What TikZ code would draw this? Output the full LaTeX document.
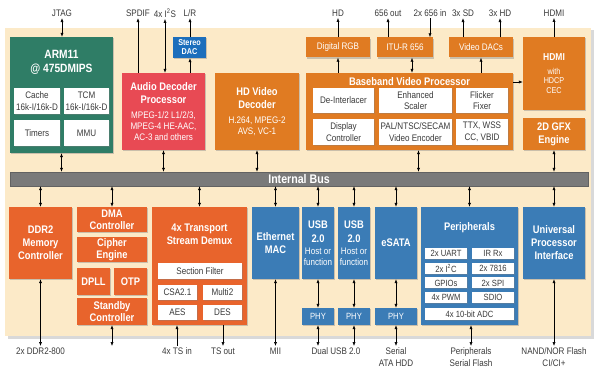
\documentclass[tikz,border=0pt]{standalone}
\usepackage{fontspec}
\setmainfont{Liberation Sans}[FakeStretch=0.85]
\usetikzlibrary{arrows.meta,shadows}

\definecolor{cream}{HTML}{FCEAC8}
\definecolor{armgreen}{HTML}{2F7D66}
\definecolor{audred}{HTML}{E84A54}
\definecolor{vidorange}{HTML}{E07B22}
\definecolor{memorange}{HTML}{E8642C}
\definecolor{iofblue}{HTML}{3B7CB6}
\definecolor{dacblue}{HTML}{1C6EBC}
\definecolor{busgray}{HTML}{7A7A7A}
\definecolor{txtgray}{HTML}{3A3A3A}

\newcommand{\plainfont}{\fontsize{9.5}{11}\selectfont\mdseries}
\newcommand{\subtxt}{\fontsize{9.5}{11.5}\selectfont}
\newcommand{\lblfont}{\fontsize{9.5}{11.5}\selectfont}
\newcommand{\dsc}[2][9.5]{{\fontsize{#1}{11}\selectfont\mdseries #2}}

\begin{document}
\begin{tikzpicture}[
		x=1pt, y=-1pt,
		sz/.style 2 args={
			minimum width=#1pt,
			minimum height=#2pt
		},
		blk/.style={
			rectangle,
			inner sep=0pt,
			align=center,
			text=white,
			font=\fontsize{11}{13}\selectfont\bfseries,
			drop shadow={shadow xshift=1.2pt, shadow yshift=-1.2pt, opacity=.4}
		},
		greenblk/.style={blk, fill=armgreen},
		redblk/.style={blk, fill=audred},
		orangeblk/.style={blk, fill=vidorange},
		memblk/.style={blk, fill=memorange},
		blueblk/.style={blk, fill=iofblue},
		subbox/.style={
			rectangle,
			fill=white,
			text=txtgray,
			inner sep=0pt,
			align=center,
			font=\subtxt,
			drop shadow={shadow xshift=.8pt, shadow yshift=-.8pt, opacity=.35}
		},
		pbox/.style={
			subbox,
			sz={42}{11},
			font=\fontsize{9}{10}\selectfont
		},
		ttl/.style={
			text=white,
			inner sep=0pt,
			align=center,
			font=\fontsize{11}{13}\selectfont\bfseries
		},
		busbar/.style={
			rectangle,
			fill=busgray,
			draw=busgray!80!black,
			text=white,
			font=\fontsize{12.5}{14}\selectfont\bfseries,
			drop shadow={shadow xshift=1.2pt, shadow yshift=-1.2pt, opacity=.4}
		},
		lbl/.style={
			text=txtgray,
			inner sep=1.5pt,
			align=center,
			font=\lblfont
		},
		arr/.style={
			-{Latex[length=1.4mm,width=1.1mm]},
			line width=.6pt
		},
		darr/.style={
			{Latex[length=1.4mm,width=1.1mm]}-{Latex[length=1.4mm,width=1.1mm]},
			line width=.6pt
		}
	]
	\useasboundingbox (0,0) rectangle (600,374);
	
	% chip area
	\path[fill=cream, drop shadow={shadow xshift=2.5pt, shadow yshift=-2.5pt, opacity=.3}]
		(5,28) rectangle (591,336);
	
	% --- upper half ---
	\node[greenblk, sz={103}{116}] (arm) at (61.5,95) {};
	\node[ttl, font=\fontsize{12}{14}\selectfont\bfseries] (armt) at (61.5,62) {ARM11\\@ 475DMIPS};
	\node[subbox, sz={46}{26}] (cache) at (37,101) {Cache\\16k-I/16k-D};
	\node[subbox, sz={45}{26}] (tcm) at (86.5,101) {TCM\\16k-I/16k-D};
	\node[subbox, sz={46}{26}] (timers) at (37,133) {Timers};
	\node[subbox, sz={45}{26}] (mmu) at (86.5,133) {MMU};
	
	\node[blk, fill=dacblue, sz={33}{21}, font=\fontsize{8.5}{9}\selectfont\bfseries] (dac) at (189.5,47.5) {Stereo\\DAC};
	\node[redblk, sz={83}{77}] (audio) at (163.5,111.5) {
		Audio Decoder\\Processor\\[2.5pt]
		\dsc{MPEG-1/2 L1/2/3,}\\[-2pt]
		\dsc{MPEG-4 HE-AAC,}\\[-2pt]
		\dsc{AC-3 and others}
	};
	\node[orangeblk, sz={84}{77}] (hdvid) at (257,111.5) {
		HD Video\\Decoder\\[2.5pt]
		\dsc{H.264, MPEG-2}\\[-2pt]
		\dsc{AVS, VC-1}
	};
	
	\node[orangeblk, sz={64}{20}, font=\plainfont] (rgb) at (338,47.5) {Digital RGB};
	\node[orangeblk, sz={56}{20}, font=\plainfont] (itu) at (405,47.5) {ITU-R 656};
	\node[orangeblk, sz={64}{20}, font=\plainfont] (vdac) at (481,47.5) {Video DACs};
	
	\node[orangeblk, sz={207}{77}] (bvp) at (409.5,111.5) {};
	\node[ttl] (bvpt) at (409.5,81.5) {Baseband Video Processor};
	\node[subbox, sz={61}{25}] (deint) at (343.5,100.5) {De-Interlacer};
	\node[subbox, sz={73}{25}] (scaler) at (415.5,100.5) {Enhanced\\Scaler};
	\node[subbox, sz={52}{25}] (flick) at (482,100.5) {Flicker\\Fixer};
	\node[subbox, sz={61}{26}] (dispc) at (343.5,132) {Display\\Controller};
	\node[subbox, sz={73}{26}] (venc) at (415.5,132) {PAL/NTSC/SECAM\\Video Encoder};
	\node[subbox, sz={52}{26}] (ttx) at (482,132) {TTX, WSS\\CC, VBID};
	
	\node[orangeblk, sz={62}{73}, font=\fontsize{10}{11}\selectfont\bfseries] (hdmi) at (554,73.5) {
		HDMI\\[3pt]
		\dsc[8.5]{with}\\[-1.5pt]
		\dsc[8.5]{HDCP}\\[-1pt]
		\dsc[8.5]{CEC}
	};
	\node[orangeblk, sz={62}{32}] (gfx) at (554,134) {2D GFX\\Engine};
	
	% bus
	\node[busbar, sz={578}{14}, inner sep=0pt] (bus) at (299,179) {Internal Bus};
	
	% --- lower half ---
	\node[memblk, sz={63}{72}] (ddr) at (40.5,243) {DDR2\\Memory\\Controller};
	\node[memblk, sz={70}{25}] (dma) at (112,219.5) {DMA\\[-1pt]Controller};
	\node[memblk, sz={70}{25}] (cipher) at (112,249.5) {Cipher\\[-1pt]Engine};
	\node[memblk, sz={33}{27}] (dpll) at (93.5,281.5) {DPLL};
	\node[memblk, sz={33}{27}] (otp) at (130.5,281.5) {OTP};
	\node[memblk, sz={70}{27}] (stby) at (112,311.5) {Standby\\[-1pt]Controller};
	
	\node[memblk, sz={95}{118}] (tsd) at (199.5,266) {};
	\node[ttl] (tsdt) at (199.5,234.5) {4x Transport\\Stream Demux};
	\node[subbox, sz={84}{16}] (secf) at (200,271) {Section Filter};
	\node[subbox, sz={39}{15}] (csa) at (177.5,292.5) {CSA2.1};
	\node[subbox, sz={39}{15}] (multi) at (222.5,292.5) {Multi2};
	\node[subbox, sz={39}{15}] (aes) at (177.5,312.5) {AES};
	\node[subbox, sz={39}{15}] (des) at (222.5,312.5) {DES};
	
	\node[blueblk, sz={47}{72}] (eth) at (275.5,243) {Ethernet\\MAC};
	\node[blueblk, sz={32}{72}] (usba) at (318,243) {
		USB\\[1pt]2.0\\[-1pt]
		\dsc{Host or}\\[-2pt]
		\dsc{function}
	};
	\node[blueblk, sz={32}{72}] (usbb) at (354,243) {
		USB\\[1pt]2.0\\[-1pt]
		\dsc{Host or}\\[-2pt]
		\dsc{function}
	};
	\node[blueblk, sz={32}{17}, font=\fontsize{9}{10}\selectfont] (phya) at (318,316.5) {PHY};
	\node[blueblk, sz={32}{17}, font=\fontsize{9}{10}\selectfont] (phyb) at (354,316.5) {PHY};
	\node[blueblk, sz={42}{72}] (esata) at (396,243) {eSATA};
	\node[blueblk, sz={42}{17}, font=\fontsize{9}{10}\selectfont] (phyc) at (396,316.5) {PHY};
	
	\node[blueblk, sz={97}{118}] (peri) at (469.5,266) {};
	\node[ttl] (perit) at (469.5,228) {Peripherals};
	\node[pbox] (uart) at (446,253.5) {2x UART};
	\node[pbox] (irrx) at (493,253.5) {IR Rx};
	\node[pbox] (iic) at (446,268.5) {2x I\textsuperscript{2}C};
	\node[pbox] (iso) at (493,268.5) {2x 7816};
	\node[pbox] (gpio) at (446,283) {GPIOs};
	\node[pbox] (spi) at (493,283) {2x SPI};
	\node[pbox] (pwm) at (446,297.5) {4x PWM};
	\node[pbox] (sdio) at (493,297.5) {SDIO};
	\node[pbox, sz={89}{12}] (adc) at (469.5,314) {4x 10-bit ADC};
	
	\node[blueblk, sz={62}{72}] (upi) at (554,243) {Universal\\Processor\\Interface};
	
	% pin labels, top
	\node[lbl] (jtag) at (62,13) {JTAG};
	\node[lbl] (spdif) at (138,13) {SPDIF};
	\node[lbl] (i2s) at (165,13) {4x I\textsuperscript{2}S};
	\node[lbl] (lr) at (190,13) {L/R};
	\node[lbl] (hd) at (338,13) {HD};
	\node[lbl] (out656) at (388,13) {656 out};
	\node[lbl] (in656) at (430,13) {2x 656 in};
	\node[lbl] (sd3) at (463,13) {3x SD};
	\node[lbl] (hd3) at (500,13) {3x HD};
	\node[lbl] (hdmil) at (554,13) {HDMI};
	
	% pin labels, bottom
	\node[lbl, anchor=north] (ddrl) at (40.5,346) {2x DDR2-800};
	\node[lbl, anchor=north] (tsin) at (177,346) {4x TS in};
	\node[lbl, anchor=north] (tsout) at (223,346) {TS out};
	\node[lbl, anchor=north] (mii) at (275.5,346) {MII};
	\node[lbl, anchor=north] (usbl) at (336,346) {Dual USB 2.0};
	\node[lbl, anchor=north] (satal) at (396,346) {Serial\\ATA HDD};
	\node[lbl, anchor=north] (peril) at (471,346) {Peripherals\\Serial Flash};
	\node[lbl, anchor=north] (flashl) at (554,346) {NAND/NOR Flash\\CI/CI+};
	
	% top connections
	\draw[darr] (jtag.south) -- (jtag.south |- arm.north);
	\draw[arr] (spdif.south |- audio.north) -- (spdif.south);
	\draw[darr] (i2s.south) -- (i2s.south |- audio.north);
	\draw[arr] (lr.south |- dac.north) -- (lr.south);
	\draw[arr] (lr.south |- audio.north) -- (lr.south |- dac.south);
	\draw[arr] (rgb.north) -- (hd.south);
	\draw[arr] (rgb.south |- bvp.north) -- (rgb.south);
	\draw[arr] (out656.south |- itu.north) -- (out656.south);
	\draw[arr] (in656.south) -- (in656.south |- itu.north);
	\draw[darr] ([xshift=7pt]itu.south) -- ([xshift=7pt]itu.south |- bvp.north);
	\draw[arr] (sd3.south |- vdac.north) -- (sd3.south);
	\draw[arr] (hd3.south |- vdac.north) -- (hd3.south);
	\draw[arr] (vdac.south |- bvp.north) -- (vdac.south);
	\draw[arr] (hdmi.north) -- (hdmil.south);
	\draw[arr] ([yshift=29.5pt]bvp.east) -- ([yshift=29.5pt]bvp.east -| hdmi.west);
	
	% bus connections
	\draw[darr] (arm.south) -- (arm.south |- bus.north);
	\draw[darr] (audio.south) -- (audio.south |- bus.north);
	\draw[darr] (hdvid.south) -- (hdvid.south |- bus.north);
	\draw[darr] ([xshift=9pt]bvp.south) -- ([xshift=9pt]bvp.south |- bus.north);
	\draw[darr] (gfx.south) -- (gfx.south |- bus.north);
	\draw[darr] (bus.south -| ddr.north) -- (ddr.north);
	\draw[darr] (bus.south -| dma.north) -- (dma.north);
	\draw[darr] (bus.south -| tsd.north) -- (tsd.north);
	\draw[darr] (bus.south -| eth.north) -- (eth.north);
	\draw[darr] (bus.south -| usba.north) -- (usba.north);
	\draw[darr] (bus.south -| usbb.north) -- (usbb.north);
	\draw[darr] (bus.south -| esata.north) -- (esata.north);
	\draw[darr] (bus.south -| peri.north) -- (peri.north);
	\draw[darr] (bus.south -| upi.north) -- (upi.north);
	
	% bottom connections
	\draw[darr] (ddr.south) -- (ddr.south |- ddrl.north);
	\draw[darr] (stby.south) -- (stby.south |- ddrl.north);
	\draw[arr] (tsin.north) -- (tsin.north |- tsd.south);
	\draw[arr] (tsout.north |- tsd.south) -- (tsout.north);
	\draw[darr] (eth.south) -- (eth.south |- mii.north);
	\draw[darr] (usba.south) -- (phya.north);
	\draw[darr] (usbb.south) -- (phyb.north);
	\draw[darr] (phya.south) -- (phya.south |- usbl.north);
	\draw[darr] (phyb.south) -- (phyb.south |- usbl.north);
	\draw[darr] (esata.south) -- (phyc.north);
	\draw[darr] (phyc.south) -- (satal.north);
	\draw[darr] (peril.north |- peri.south) -- (peril.north);
	\draw[darr] (upi.south) -- (flashl.north);
	
\end{tikzpicture}
\end{document}
